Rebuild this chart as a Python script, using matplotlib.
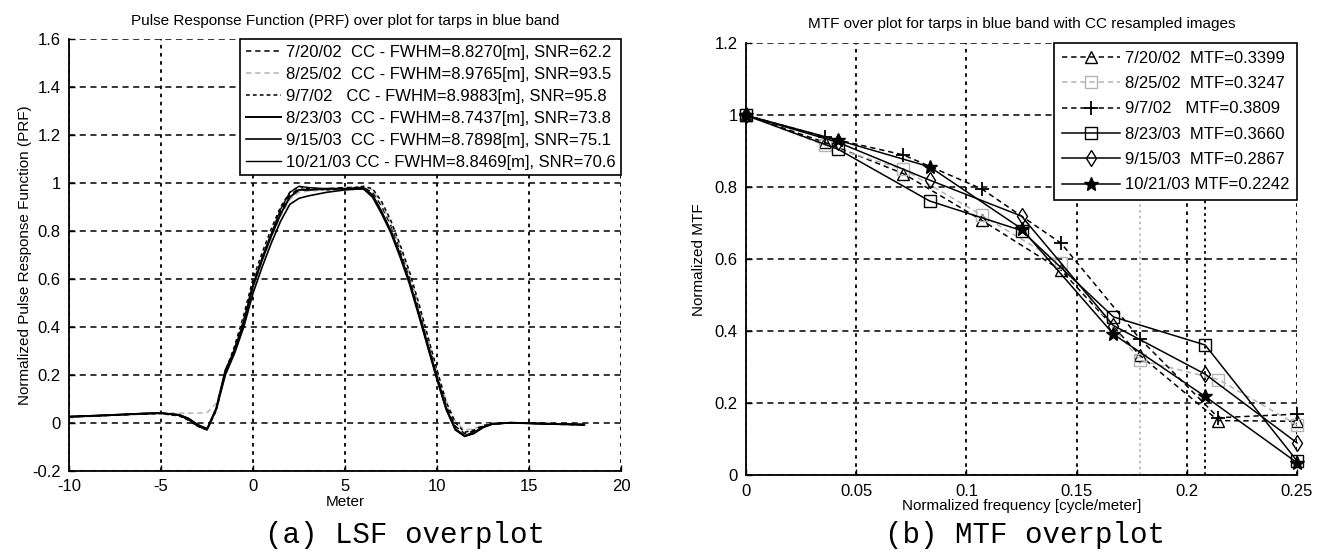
import matplotlib
matplotlib.use("Agg")
import matplotlib.pyplot as plt

plt.rcParams["font.family"] = ["Liberation Sans", "DejaVu Sans"]
plt.rcParams["axes.unicode_minus"] = False

# ---- (a) pulse response curves, sampled along the meter axis ----
PRF_X = [-10, -9, -8, -7, -6, -5, -4, -3.5, -3, -2.5, -2, -1.5, -1, -0.5,
         0, 0.5, 1, 1.5, 2, 2.5, 3, 4, 5, 6, 6.5, 7, 7.5, 8,
         8.5, 9, 9.5, 10, 10.5, 11, 11.5, 12, 12.5, 13, 14, 16, 18]

PRF_DATES = ["7/20/02", "8/25/02", "9/7/02", "8/23/03", "9/15/03", "10/21/03"]
PRF_FWHM = ["8.8270", "8.9765", "8.9883", "8.7437", "8.7898", "8.8469"]
PRF_SNR = ["62.2", "93.5", "95.8", "73.8", "75.1", "70.6"]

prf_0720 = [0.025, 0.028, 0.030, 0.033, 0.036, 0.040, 0.030, 0.015, -0.010, -0.025, 0.060, 0.210, 0.310, 0.430,
            0.580, 0.690, 0.790, 0.880, 0.950, 0.975, 0.970, 0.975, 0.980, 0.980, 0.960, 0.900, 0.820, 0.720,
            0.610, 0.480, 0.340, 0.200, 0.070, -0.015, -0.045, -0.035, -0.015, -0.005, 0.000, -0.005, -0.010]
prf_0825 = [0.020, 0.025, 0.030, 0.035, 0.038, 0.040, 0.040, 0.040, 0.040, 0.042, 0.080, 0.200, 0.300, 0.410,
            0.550, 0.670, 0.770, 0.860, 0.930, 0.960, 0.965, 0.970, 0.975, 0.980, 0.970, 0.910, 0.830, 0.730,
            0.620, 0.490, 0.350, 0.210, 0.090, 0.005, -0.030, -0.025, -0.010, 0.000, 0.000, -0.005, -0.005]
prf_0907 = [0.025, 0.027, 0.030, 0.034, 0.037, 0.038, 0.028, 0.010, -0.015, -0.030, 0.050, 0.215, 0.320, 0.450,
            0.600, 0.710, 0.810, 0.900, 0.960, 0.985, 0.975, 0.970, 0.975, 0.985, 0.975, 0.920, 0.840, 0.740,
            0.630, 0.500, 0.360, 0.220, 0.085, 0.000, -0.040, -0.030, -0.012, -0.005, 0.000, -0.003, -0.008]
prf_0823 = [0.025, 0.028, 0.031, 0.034, 0.038, 0.040, 0.032, 0.015, -0.012, -0.028, 0.060, 0.220, 0.300, 0.420,
            0.570, 0.680, 0.780, 0.870, 0.940, 0.970, 0.970, 0.975, 0.975, 0.975, 0.940, 0.870, 0.790, 0.690,
            0.580, 0.450, 0.315, 0.180, 0.055, -0.030, -0.055, -0.040, -0.018, -0.005, 0.000, -0.005, -0.008]
prf_0915 = [0.025, 0.028, 0.031, 0.035, 0.038, 0.040, 0.033, 0.018, -0.008, -0.025, 0.055, 0.200, 0.290, 0.400,
            0.540, 0.650, 0.750, 0.840, 0.910, 0.935, 0.945, 0.960, 0.970, 0.975, 0.945, 0.875, 0.795, 0.700,
            0.590, 0.460, 0.325, 0.190, 0.060, -0.025, -0.055, -0.045, -0.020, -0.005, 0.000, -0.005, -0.008]
prf_1021 = [0.025, 0.028, 0.031, 0.034, 0.038, 0.040, 0.030, 0.012, -0.015, -0.030, 0.058, 0.215, 0.305, 0.425,
            0.575, 0.690, 0.790, 0.890, 0.960, 0.985, 0.980, 0.975, 0.975, 0.980, 0.950, 0.880, 0.800, 0.700,
            0.585, 0.455, 0.320, 0.185, 0.058, -0.028, -0.058, -0.045, -0.020, -0.006, 0.000, -0.004, -0.008]
PRF_Y = [prf_0720, prf_0825, prf_0907, prf_0823, prf_0915, prf_1021]

# ---- (b) MTF samples ----
MTF_DATES = ["7/20/02", "8/25/02", "9/7/02", "8/23/03", "9/15/03", "10/21/03"]
MTF_AT_NYQ = ["0.3399", "0.3247", "0.3809", "0.3660", "0.2867", "0.2242"]

freq_02 = [0, 0.0357, 0.0714, 0.1071, 0.1429, 0.1786, 0.2143, 0.25]
freq_03 = [0, 0.0417, 0.0833, 0.125, 0.1667, 0.2083, 0.25]
mtf_0720 = [1.0, 0.925, 0.838, 0.708, 0.570, 0.334, 0.152, 0.150]
mtf_0825 = [1.0, 0.917, 0.850, 0.722, 0.590, 0.320, 0.266, 0.140]
mtf_0907 = [1.0, 0.940, 0.890, 0.795, 0.645, 0.380, 0.160, 0.170]
mtf_0823 = [1.0, 0.906, 0.762, 0.680, 0.440, 0.362, 0.040]
mtf_0915 = [1.0, 0.925, 0.820, 0.720, 0.416, 0.281, 0.090]
mtf_1021 = [1.0, 0.931, 0.857, 0.685, 0.392, 0.219, 0.035]
MTF_X = [freq_02, freq_02, freq_02, freq_03, freq_03, freq_03]
MTF_Y = [mtf_0720, mtf_0825, mtf_0907, mtf_0823, mtf_0915, mtf_1021]
NYQ_LINES = [0.1786, 0.2083]

GRAY = "#b4b4b4"
DASH = (0, (3.5, 2.5))
prf_styles = [
    dict(color="black", ls=DASH, lw=1.1),
    dict(color=GRAY, ls=DASH, lw=1.1),
    dict(color="black", ls=(0, (2.5, 2)), lw=1.1),
    dict(color="black", ls="-", lw=1.4),
    dict(color="black", ls="-", lw=1.2),
    dict(color="black", ls="-", lw=1.0),
]
mtf_styles = [
    dict(color="black", ls=DASH, marker="^", mfc="none", mec="black", ms=8),
    dict(color=GRAY, ls=DASH, marker="s", mfc="none", mec=GRAY, ms=8),
    dict(color="black", ls=DASH, marker="+", mec="black", ms=10, mew=1.3),
    dict(color="black", ls="-", marker="s", mfc="none", mec="black", ms=8),
    dict(color="black", ls="-", marker="d", mfc="none", mec="black", ms=8),
    dict(color="black", ls="-", marker="*", mfc="black", mec="black", ms=10),
]


def style_axes(ax):
    for side in ("top", "right"):
        ax.spines[side].set_visible(False)
    for side in ("left", "bottom"):
        ax.spines[side].set_linewidth(1.3)
    ax.tick_params(direction="in", length=4, labelsize=12, width=1, pad=6)
    ax.grid(True, axis="y", color="black", ls=(0, (4, 3)), lw=1.1)
    ax.grid(True, axis="x", color="black", ls=(0, (2, 2.5)), lw=1.3)
    ax.set_axisbelow(True)


def box_legend(ax, **kw):
    leg = ax.legend(loc="upper right", fontsize=12, frameon=True, fancybox=False,
                    borderaxespad=0, handletextpad=0.3, **kw)
    leg.get_frame().set_edgecolor("black")
    leg.get_frame().set_linewidth(1.2)
    leg.get_frame().set_alpha(1)
    return leg


fig = plt.figure(figsize=(13.18, 5.53), dpi=100)

# (a)
ax1 = fig.add_axes([0.0524, 0.1488, 0.4188, 0.7812])
for i, ys in enumerate(PRF_Y):
    label = f"{PRF_DATES[i]:<9}CC - FWHM={PRF_FWHM[i]}[m], SNR={PRF_SNR[i]}"
    ax1.plot(PRF_X, ys, label=label, **prf_styles[i])
ax1.set_xlim(-10, 20)
ax1.set_ylim(-0.2, 1.6)
ax1.set_xticks([-10, -5, 0, 5, 10, 15, 20])
ax1.set_yticks([-0.2, 0, 0.2, 0.4, 0.6, 0.8, 1, 1.2, 1.4, 1.6])
ax1.set_yticklabels(["-0.2", "0", "0.2", "0.4", "0.6", "0.8", "1", "1.2", "1.4", "1.6"])
style_axes(ax1)
ax1.set_title("Pulse Response Function (PRF) over plot for tarps in blue band", fontsize=11, pad=10)
ax1.set_xlabel("Meter", fontsize=11, labelpad=1)
ax1.set_ylabel("Normalized Pulse Response Function (PRF)", fontsize=11, labelpad=0)
box_legend(ax1, handlelength=2.1, labelspacing=0.42, borderpad=0.35)

# (b)
ax2 = fig.add_axes([0.5660, 0.1405, 0.4181, 0.7812])
ax2.axvline(NYQ_LINES[0], color=GRAY, ls=(0, (1.5, 2)), lw=1.2)
ax2.axvline(NYQ_LINES[1], color="black", ls=(0, (1.5, 2)), lw=1.3)
for i in range(len(MTF_Y)):
    label = f"{MTF_DATES[i]:<9}MTF={MTF_AT_NYQ[i]}"
    ax2.plot(MTF_X[i], MTF_Y[i], label=label, lw=1.1, clip_on=False, **mtf_styles[i])
ax2.set_xlim(0, 0.25)
ax2.set_ylim(0, 1.2)
ax2.set_xticks([0, 0.05, 0.1, 0.15, 0.2, 0.25])
ax2.set_xticklabels(["0", "0.05", "0.1", "0.15", "0.2", "0.25"])
ax2.set_yticks([0, 0.2, 0.4, 0.6, 0.8, 1, 1.2])
ax2.set_yticklabels(["0", "0.2", "0.4", "0.6", "0.8", "1", "1.2"])
style_axes(ax2)
ax2.set_title("MTF over plot for tarps in blue band with CC resampled images", fontsize=11, pad=11)
ax2.set_xlabel("Normalized frequency [cycle/meter]", fontsize=11, labelpad=0)
ax2.set_ylabel("Normalized MTF", fontsize=11, labelpad=6)
box_legend(ax2, handlelength=3.5, labelspacing=0.62, borderpad=0.45)

fig.text(0.307, 0.032, "(a) LSF overplot", fontsize=21, family="Liberation Mono", ha="center", va="center")
fig.text(0.778, 0.032, "(b) MTF overplot", fontsize=21, family="Liberation Mono", ha="center", va="center")

fig.savefig("out.png", dpi=100)
